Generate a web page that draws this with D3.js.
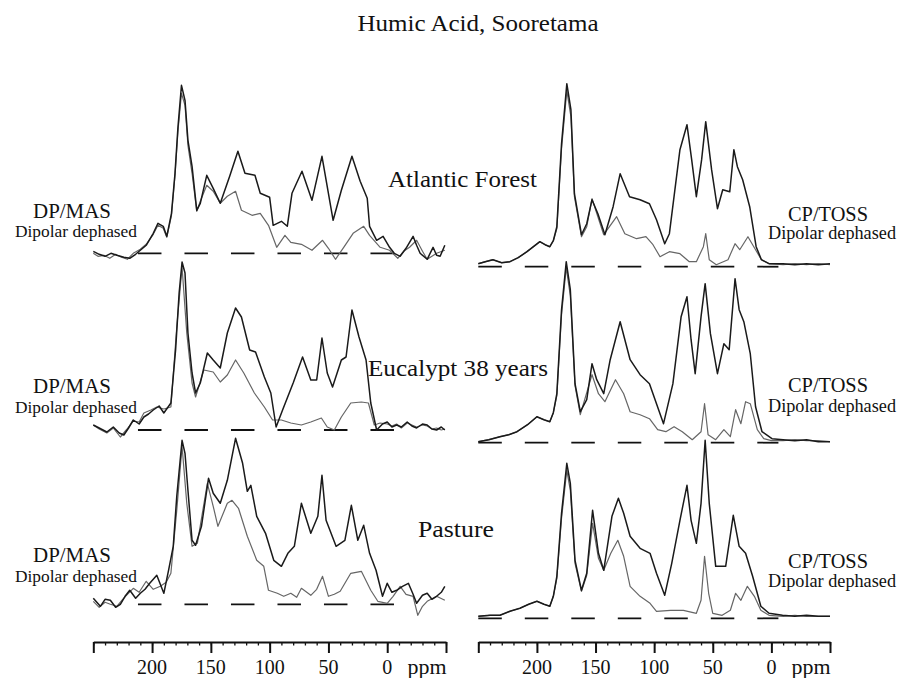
<!DOCTYPE html>
<html>
<head>
<meta charset="utf-8">
<script src="https://cdn.jsdelivr.net/npm/d3@7/dist/d3.min.js"></script>
<style>
  html, body { margin: 0; padding: 0; background: #fff; }
  svg { display: block; }
</style>
</head>
<body>
<svg id="chart" width="900" height="678"></svg>
<script>
// ---------- DATA (chemical shift ppm, intensity a.u.) ----------
const title = "Humic Acid, Sooretama";
const sites = ["Atlantic Forest", "Eucalypt 38 years", "Pasture"];
const leftLabel = ["DP/MAS", "Dipolar dephased"];
const rightLabel = ["CP/TOSS", "Dipolar dephased"];
const majorTicks = [250, 200, 150, 100, 50, 0, -50];
const minorTicks = d3.range(-50, 251, 10);
const tickLabels = ["", "200", "150", "100", "50", "0", ""];
const axisUnit = "ppm";
const ppmDomain = [250, -50];

// Atlantic Forest - DP/MAS
const atlDPMAS = [[250,2],[245,-1],[240,-3],[235,0],[230,-2],[224,-4],[219,-5],[214,-1],[210,3],[205,8],[199,20],[195,30],[190.5,27],[187.5,17],[183.5,40],[180.5,80],[178,126],[175,168],[172,153],[169.5,113],[166,87],[162,43],[159,50],[153.5,78],[148,65],[142,50],[134,77],[127,102],[121,80],[112.5,78],[108,60],[100,56],[97,28],[90,32],[85,27],[81,60],[72.5,82],[64,53],[55.5,97],[46,33],[39,63],[30,97],[23,72],[17,55],[15,27],[9,13],[3.5,17],[-2,6],[-6,0],[-11,-3],[-16,5],[-22,17],[-25,8],[-28,0],[-34,-6],[-39,6],[-42,-2],[-45,-3],[-49,8]];
const atlDPMASdd = [[250,0],[246,-3],[241,-2],[236,-5],[231,-1],[226,-4],[221,-6],[216,0],[210,4],[205,9],[199,19],[195,28],[190.5,25],[187.5,16],[183.5,38],[180.5,78],[178,122],[175,160],[172,148],[169.5,108],[166,80],[162,42],[159,52],[153.5,68],[148,62],[142,50],[136,57],[129,62],[124,43],[115,38],[108,40],[101,28],[94,6],[87,18],[82,11],[73,9],[64,3],[55,13],[50,5],[44,-6],[37,6],[29,20],[20,27],[15,18],[6,6],[-2,3],[-9,-5],[-14,2],[-19,6],[-25,13],[-30,2],[-34,-6],[-42,0],[-49,3]];
// Eucalypt 38 years - DP/MAS
const eucDPMAS = [[250,5],[245,2],[238.5,-2],[233,3],[228,-3],[224,-5],[220,2],[216,10],[211,6],[207,13],[203,16],[199,20],[194,24],[190,17],[184,27],[180,80],[177,137],[174.5,168],[172,157],[169.5,97],[166,57],[163,37],[159,47],[153,77],[148,70],[142,62],[136,97],[129,122],[124,113],[117,80],[112,78],[104.5,53],[99,37],[94.5,3],[89,20],[80,47],[72,73],[65,50],[60,50],[55.5,92],[51,57],[46.5,43],[39,70],[35,73],[30,120],[24,93],[18,70],[14,27],[9,0],[4,6],[0,8],[-4,3],[-8,5],[-12,3],[-17,8],[-21,4],[-25,2],[-30,6],[-34,5],[-38,1],[-42,0],[-46,3],[-49,0]];
const eucDPMASdd = [[250,5],[245,1],[238.5,-3],[233,2],[227,-7],[222,0],[216,9],[211,8],[207,17],[201,20],[196,23],[190,21],[184,23],[179,103],[174.5,163],[170.5,97],[166,47],[163,33],[156,60],[148,58],[142,48],[136,55],[129,70],[122,57],[113,37],[104.5,23],[97.5,10],[90,10],[82,7],[73,5],[65,8],[56,12],[51,3],[45,0],[39,13],[31,27],[22,28],[16,27],[11,5],[6,7],[0,6],[-4,4],[-8,6],[-12,2],[-17,7],[-21,5],[-25,3],[-30,5],[-34,4],[-38,1],[-42,2],[-46,0],[-49,1]];
// Pasture - DP/MAS
const pasDPMAS = [[250,6],[244,-2],[240,5],[235.5,4],[231,-3],[227,0],[223,8],[219,14],[214,6],[210,11],[206,15],[202,21],[196,29],[190,11],[186,34],[182,58],[179,108],[174.5,164],[172,151],[169.5,114],[166,64],[163,59],[158,78],[152,126],[148,111],[142,101],[136,124],[129,166],[123,141],[119,113],[116,119],[111,88],[103.5,71],[96.5,44],[90,38],[84.5,51],[79,58],[73,101],[65,71],[59,88],[55.5,129],[52,84],[43.5,58],[36,64],[30.5,99],[25,64],[20,79],[15,51],[9.5,34],[4,8],[0,21],[-4,12],[-8,14],[-13,18],[-18,21],[-22,10],[-25,1],[-30,9],[-34,11],[-38,5],[-42,8],[-46,12],[-49,18]];
const pasDPMASdd = [[250,3],[245,-3],[240,2],[235.5,0],[230,-2],[225,5],[221,10],[216,16],[211,12],[205,23],[199,15],[193,18],[188,22],[184,31],[179,94],[174.5,158],[170.5,101],[166,58],[161.5,61],[153,121],[148,98],[144,78],[136,101],[132,104],[126.5,96],[119,68],[111,44],[105,38],[101,14],[93.5,11],[88,8],[82,11],[77,7],[73,16],[65,9],[60,15],[55,28],[50,8],[45,10],[40,13],[31,31],[22,33],[14,14],[8,3],[0,1],[-5,8],[-11,18],[-16,10],[-22,8],[-26,-11],[-30,-2],[-34,3],[-42,8],[-49,4]];
// Atlantic Forest - CP/TOSS
const atlCPTOSS = [[250,3],[244,5],[237.5,7],[230,4],[223,5],[216,9],[208.5,15],[203,20],[197.5,25],[193,22],[189,20],[186,26],[183,40],[179,123],[174.5,183],[171,157],[168,73],[162,32],[157.5,43],[153,67],[148,53],[142,32],[135,60],[129,93],[121,70],[112,67],[104,63],[98,47],[91,23],[87,33],[78,117],[72,142],[68,107],[64,70],[59.5,107],[56,145],[51,97],[46,58],[41.5,77],[35.5,75],[32,117],[29,100],[24.5,87],[18.5,60],[13,20],[8.5,7],[2,3],[-10,3],[-20,2],[-30,3],[-40,2],[-50,3]];
const atlCPTOSSdd = [[250,3],[244,5],[237.5,7],[230,4],[223,5],[216,9],[208.5,15],[203,20],[197.5,25],[193,22],[189,20],[186,26],[183,38],[179,118],[174.5,176],[171,150],[168,70],[162,30],[157.5,40],[153,68],[148,50],[143,32],[132,50],[125,33],[115,28],[107,30],[101,22],[95,10],[87,15],[78,13],[70,5],[64,5],[58,20],[56,33],[53,7],[47,2],[37,7],[31,23],[27,17],[20,30],[14,18],[8.5,7],[2,3],[-10,2],[-20,3],[-30,2],[-40,3],[-50,2]];
// Eucalypt 38 years - CP/TOSS
const eucCPTOSS = [[250,1],[241,3],[231.5,6],[224,8],[217,11],[208,18],[200,26],[194,23],[189,21],[186,30],[183,49],[179,133],[175,181],[171.5,153],[167.5,59],[163,31],[157.5,43],[153,79],[149,63],[143,49],[137.5,83],[129,121],[120.5,83],[112,68],[104,59],[92,19],[84,59],[77,126],[72,146],[68.5,103],[65,69],[60,126],[56.5,159],[52,109],[46,69],[40.5,99],[36,93],[31,164],[27.5,133],[23.5,121],[18,89],[13.5,36],[8,11],[-0.5,4],[-10,3],[-20,2],[-30,3],[-40,1],[-50,1]];
const eucCPTOSSdd = [[250,1],[241,3],[231.5,6],[224,8],[217,11],[208,18],[200,26],[194,23],[189,21],[186,30],[183,47],[179,128],[175,175],[171.5,147],[167.5,57],[163,28],[153,68],[147.5,49],[142,41],[133,63],[126,49],[120.5,31],[112,28],[104,24],[97,13],[90,11],[83,16],[76,11],[67.5,3],[60,11],[57,39],[54,8],[47.5,3],[40.5,13],[35,6],[30.5,33],[26,19],[22,41],[18,39],[12,13],[6.5,4],[0,2],[-10,2],[-20,3],[-30,2],[-40,2],[-50,1]];
// Pasture - CP/TOSS
const pasCPTOSS = [[250,2],[240,3],[231.5,3],[223,7],[214.5,10],[207,14],[200,17],[194,14],[189,12],[186,22],[183,42],[179,105],[174.5,155],[171.5,135],[167.5,58],[162,28],[157.5,45],[152.5,108],[147.5,65],[143,48],[136,102],[130.5,120],[126,105],[120.5,82],[112,70],[103.5,65],[98,45],[91,23],[85,55],[78,98],[72,133],[68.5,98],[64,75],[60,115],[56.5,178],[53,115],[47.5,52],[39,52],[32.5,103],[27.5,72],[22,65],[16,42],[9,12],[2,5],[-9.5,3],[-20,2],[-30,3],[-40,2],[-50,2]];
const pasCPTOSSdd = [[250,2],[240,3],[231.5,3],[223,7],[214.5,10],[207,14],[200,17],[194,14],[189,12],[186,22],[183,40],[179,100],[174.5,148],[171.5,128],[167.5,55],[162,27],[157.5,43],[152.5,95],[147.5,60],[143,48],[137,65],[131,78],[126,62],[120.5,32],[112,22],[103.5,15],[98,7],[86,8],[75,8],[64,5],[60,18],[57,62],[53.5,25],[50,5],[42,3],[35,8],[30.5,25],[26,18],[20.5,32],[14.5,22],[9,8],[2,3],[-10,2],[-20,3],[-30,2],[-40,2],[-50,2]];

// dashed zero-intensity reference spans (ppm)
const leftZeroSpan = [212, -7];
const rightZeroSpan = [250, -6];

// ---------- LAYOUT ----------
const FONT = '"Liberation Serif"';
const svg = d3.select("#chart");
const leftX = d3.scaleLinear().domain(ppmDomain).range([93.3, 446]);
const rightX = d3.scaleLinear().domain(ppmDomain).range([478.3, 830]);
const leftBase = [253.3, 430, 604.3];
const rightBase = [266.7, 442.7, 618.3];
const axisY = 642;

const leftSeries = [[atlDPMAS, atlDPMASdd], [eucDPMAS, eucDPMASdd], [pasDPMAS, pasDPMASdd]];
const rightSeries = [[atlCPTOSS, atlCPTOSSdd], [eucCPTOSS, eucCPTOSSdd], [pasCPTOSS, pasCPTOSSdd]];

function drawPanel(x, base, pair, span) {
  const y = d3.scaleLinear().domain([0, 180]).range([base, base - 180]);
  const line = d3.line().x(d => x(d[0])).y(d => y(d[1]));
  const g = svg.append("g");
  g.append("path")
    .attr("d", d3.line().x(d => x(d)).y(() => y(0))(span))
    .attr("fill", "none").attr("stroke", "#111").attr("stroke-width", 1.8)
    .attr("stroke-dasharray", "23.5,23");
  g.append("path").attr("d", line(pair[1]))
    .attr("fill", "none").attr("stroke", "#666").attr("stroke-width", 1.2)
    .attr("stroke-linejoin", "round");
  g.append("path").attr("d", line(pair[0]))
    .attr("fill", "none").attr("stroke", "#1a1a1a").attr("stroke-width", 1.5)
    .attr("stroke-linejoin", "round");
}

for (let i = 0; i < 3; i++) {
  drawPanel(leftX, leftBase[i], leftSeries[i], leftZeroSpan);
  drawPanel(rightX, rightBase[i], rightSeries[i], rightZeroSpan);
}

function addText(x, y, str, size, width) {
  const t = svg.append("text").attr("x", x).attr("y", y).attr("text-anchor", "middle")
    .style("font-family", FONT).style("font-size", size + "px").attr("fill", "#111").text(str);
  if (width) t.attr("textLength", width).attr("lengthAdjust", "spacingAndGlyphs");
  return t;
}

// axes
const tickLabelWidth = { "200": 30, "150": 30, "100": 30, "50": 20, "0": 10 };
function drawAxis(x, unitX) {
  const g = svg.append("g").attr("transform", `translate(0,${axisY})`);
  g.call(d3.axisBottom(x).tickValues(minorTicks).tickSize(3.5).tickSizeOuter(0).tickFormat(""));
  g.select(".domain").attr("stroke", "#111").attr("stroke-width", 2);
  g.selectAll(".tick line").attr("stroke", "#111").attr("stroke-width", 1.3);
  const g2 = svg.append("g").attr("transform", `translate(0,${axisY})`);
  g2.call(d3.axisBottom(x).tickValues(majorTicks).tickSize(11).tickSizeOuter(0).tickFormat(""));
  g2.select(".domain").remove();
  g2.selectAll(".tick line").attr("stroke", "#111").attr("stroke-width", 2);
  majorTicks.forEach((v, i) => {
    if (tickLabels[i]) addText(x(v), 674, tickLabels[i], 21, tickLabelWidth[tickLabels[i]]);
  });
  addText(unitX, 674, axisUnit, 21, 39);
}
drawAxis(leftX, 427);
drawAxis(rightX, 811);

// texts
addText(478, 31, title, 24, 241);
const siteX = [462.5, 458, 456];
const siteY = [187, 376, 537];
const siteW = [149, 180, 76];
sites.forEach((s, i) => addText(siteX[i], siteY[i], s, 23, siteW[i]));

const lTop = [218, 393, 562], lBot = [237, 413, 582];
const rTop = [221, 392, 568], rBot = [239, 412, 587];
for (let i = 0; i < 3; i++) {
  addText(72, lTop[i], leftLabel[0], 21, 78);
  addText(76, lBot[i], leftLabel[1], 17.5, 122);
  addText(828, rTop[i], rightLabel[0], 20, 80);
  addText(832, rBot[i], rightLabel[1], 18, 128);
}
</script>
</body>
</html>
